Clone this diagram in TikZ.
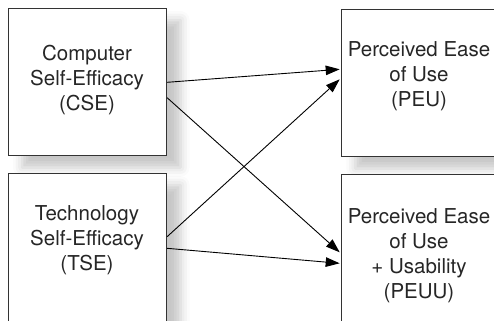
\documentclass[tikz,border=0pt]{standalone}
\usepackage{fontspec}
\setmainfont{TeX Gyre Heros}
\usetikzlibrary{arrows.meta,calc,shadows.blur}

\tikzset{
  box/.style={draw=black!80, line width=1.1bp, fill=white, rectangle,
    inner sep=0pt, anchor=north west,
    blur shadow={shadow xshift=14bp, shadow yshift=-12bp,
                 shadow blur radius=9bp, shadow opacity=22}},
  label text/.style={align=center, inner sep=0pt, text=black!85,
    font=\fontsize{20.5bp}{25bp}\selectfont},
  arr/.style={draw=black, line width=0.9bp,
    -{Triangle[length=14bp,width=9.5bp]}},
}

\begin{document}
\begin{tikzpicture}[x=1bp,y=-1bp]
  \useasboundingbox (0,0) rectangle (494,320);
  \clip (0,0) rectangle (494,320);

  % the four boxes
  \node[box, minimum width=158.5bp, minimum height=147.5bp] (cse) at (7.5,7.5) {};
  \node[box, minimum width=158.5bp, minimum height=170bp] (tse) at (7.5,172.5) {};
  \node[box, minimum width=160bp, minimum height=147bp] (peu) at (340.7,9) {};
  \node[box, minimum width=160bp, minimum height=170bp] (peuu) at (340.7,174) {};

  % box captions
  \node[label text] (cseT) at (87,79.6) {Computer\\Self-Efficacy\\(CSE)};
  \node[label text] (tseT) at (87,240.5) {Technology\\Self-Efficacy\\(TSE)};
  \node[label text] (peuT) at (419,76.5) {Perceived Ease\\of Use\\(PEU)};
  \node[label text] (peuuT) at (419,255.3) {Perceived Ease\\of Use\\+ Usability\\(PEUU)};

  % paths between the constructs
  \draw[arr] ($(cse.north east)+(0,74.8)$) -- ($(peu.north west)+(-1,60.3)$);
  \draw[arr] ($(cse.north east)+(0,90.2)$) -- ($(peuu.north west)+(-1,78.3)$);
  \draw[arr] ($(tse.north east)+(0,64.2)$) -- ($(peu.north west)+(-1,70.3)$);
  \draw[arr] ($(tse.north east)+(0,75.8)$) -- ($(peuu.north west)+(-1,89.3)$);
\end{tikzpicture}
\end{document}
